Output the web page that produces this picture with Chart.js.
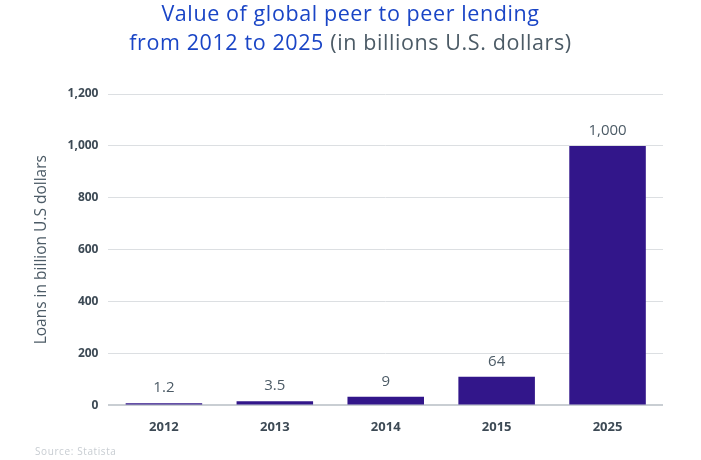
<!DOCTYPE html>
<html>
<head>
<meta charset="utf-8">
<script src="https://cdn.jsdelivr.net/npm/chart.js@4"></script>
<style>
    body { margin: 0; background: #fff; }
    #wrap { position: relative; width: 701px; height: 460px; }
    #titulo {
        position: absolute; top: -2px; left: 0; width: 701px;
        text-align: center; font-family: "Open Sans", sans-serif;
        font-size: 21.5px; line-height: 29px; color: #1a45c6;
        letter-spacing: 0.6px;
    }
    #titulo .gris { color: #4c5b66; }
    #fuente {
        position: absolute; left: 35px; top: 444px;
        font-family: "Open Sans", sans-serif; font-size: 10px; color: #c8cdd2;
        letter-spacing: 0.6px;
    }
</style>
</head>
<body>
<div id="wrap">
    <canvas id="prestamosChart" width="701" height="460"></canvas>
    <div id="titulo">Value of global peer to peer lending<br>from 2012 to 2025 <span class="gris">(in billions U.S. dollars)</span></div>
    <div id="fuente">Source: Statista</div>
</div>
<script>
// Datos del gráfico
const anios = ["2012", "2013", "2014", "2015", "2025"];
// alturas de barra tal como aparecen en la imagen
const alturas = [8, 16, 33, 110, 1000];
// etiquetas que se muestran encima de cada barra
const etiquetas = ["1.2", "3.5", "9", "64", "1,000"];
const ticksY = [0, 200, 400, 600, 800, 1000, 1200];

// Plugin para escribir las etiquetas encima de las barras
const etiquetasPlugin = {
    id: "etiquetas",
    afterDatasetsDraw(chart) {
        const ctx = chart.ctx;
        const meta = chart.getDatasetMeta(0);
        ctx.save();
        ctx.font = "15px 'Open Sans', sans-serif";
        ctx.fillStyle = "#4c5b66";
        ctx.textAlign = "center";
        ctx.textBaseline = "bottom";
        meta.data.forEach(function (bar, i) {
            ctx.fillText(etiquetas[i], bar.x, bar.y - 8);
        });
        ctx.restore();
    },
};

new Chart(document.getElementById("prestamosChart"), {
    type: "bar",
    data: {
        labels: anios,
        datasets: [
            {
                data: alturas,
                backgroundColor: "#32168a",
                borderWidth: 0,
                barPercentage: 0.69,
                categoryPercentage: 1,
            },
        ],
    },
    options: {
        responsive: false,
        animation: false,
        layout: {
            padding: { top: 94, right: 38, bottom: 19, left: 32 },
        },
        plugins: {
            legend: { display: false },
            tooltip: { enabled: false },
        },
        scales: {
            y: {
                min: 0,
                max: 1200,
                afterBuildTicks: function (axis) {
                    axis.ticks = ticksY.map((v) => ({ value: v }));
                },
                border: { display: false },
                grid: {
                    drawTicks: false,
                    color: function (c) {
                        return c.tick.value === 0 ? "#c9ced3" : "#dcdfe2";
                    },
                    lineWidth: function (c) {
                        return c.tick.value === 0 ? 2 : 1;
                    },
                },
                ticks: {
                    padding: 10,
                    color: "#3d4a55",
                    font: { family: "'Open Sans', sans-serif", size: 12, weight: "bold" },
                    callback: function (value) {
                        return value.toLocaleString("en-US");
                    },
                },
                title: {
                    display: true,
                    text: "Loans in billion U.S dollars",
                    color: "#4c5b66",
                    font: { family: "'Open Sans', sans-serif", size: 15.5 },
                    padding: { top: 0, bottom: 7 },
                },
            },
            x: {
                border: { display: false },
                grid: { display: false },
                ticks: {
                    padding: 6,
                    color: "#3d4a55",
                    font: { family: "'Open Sans', sans-serif", size: 13, weight: "bold" },
                },
            },
        },
    },
    plugins: [etiquetasPlugin],
});
</script>
</body>
</html>
